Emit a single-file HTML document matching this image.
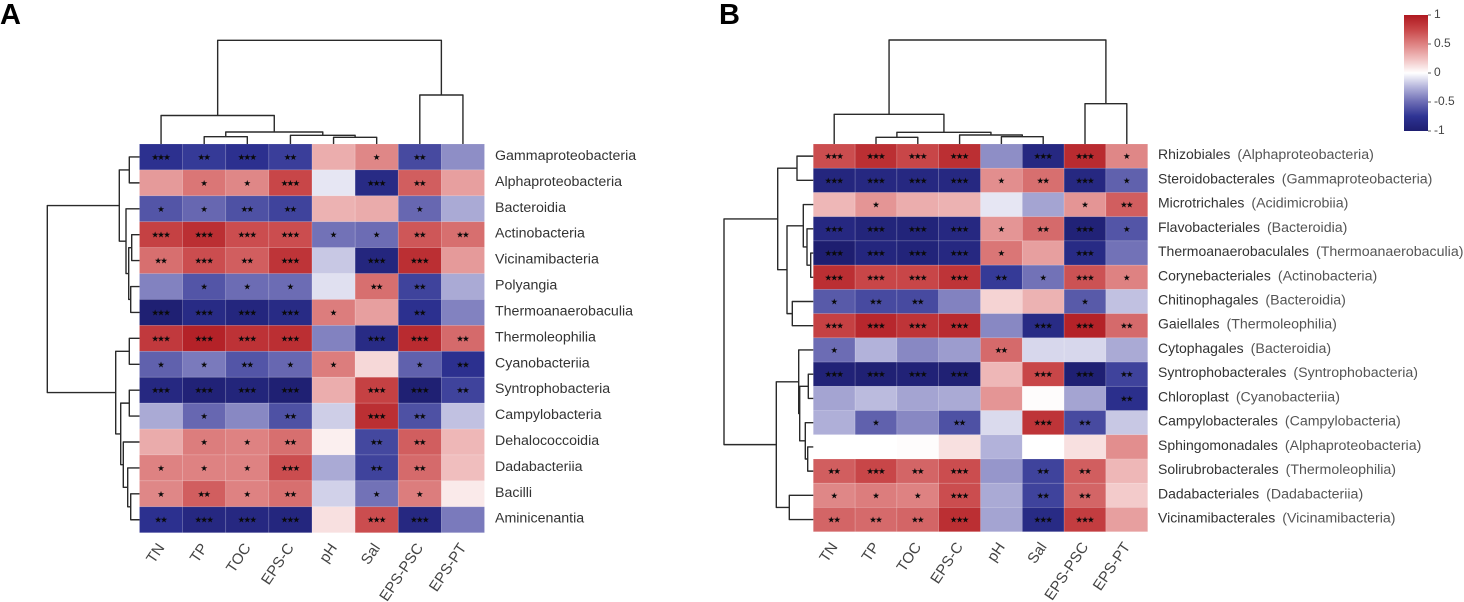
<!DOCTYPE html>
<html lang="en">
<head>
<meta charset="utf-8">
<title>Correlation heatmaps</title>
<style>
html,body{margin:0;padding:0;background:#fff;width:1464px;height:602px;overflow:hidden}
svg{display:block}
text{font-family:"Liberation Sans",Arial,sans-serif}
.panel{font-weight:700;font-size:29px;fill:#000}
.rowl{font-size:14px;fill:#333}
.rowa{font-size:14.2px}
.rowp{font-size:14.2px;fill:#555}
.coll{font-size:15px;fill:#444}
.star{font-family:"DejaVu Sans",sans-serif;font-size:8.4px;fill:#0a0a0a;letter-spacing:-1.6px}
.tick{font-size:12px;fill:#444}
.branch{fill:none;stroke:#2a2a2a;stroke-width:1.4;stroke-linejoin:round}
</style>
</head>
<body>
<svg id="chart" xmlns="http://www.w3.org/2000/svg" width="1464" height="602" viewBox="0 0 1464 602">
  <text class="panel" x="0" y="24">A</text>
  <text class="panel" x="719" y="24">B</text>
  <defs>
    <linearGradient id="cbar" x1="0" y1="1" x2="0" y2="0"></linearGradient>
  </defs>
</svg>
<script>
var envFactors = ['TN','TP','TOC','EPS-C','pH','Sal','EPS-PSC','EPS-PT'];

var rowsA = ['Gammaproteobacteria','Alphaproteobacteria','Bacteroidia','Actinobacteria','Vicinamibacteria','Polyangia','Thermoanaerobaculia','Thermoleophilia','Cyanobacteriia','Syntrophobacteria','Campylobacteria','Dehalococcoidia','Dadabacteriia','Bacilli','Aminicenantia'];
var valuesA = [
  [-.78,-.72,-.78,-.70,.32,.48,-.65,-.38],
  [.40,.55,.48,.75,-.08,-.85,.65,.38],
  [-.60,-.52,-.62,-.68,.30,.33,-.52,-.28],
  [.78,.88,.72,.72,-.48,-.50,.68,.58],
  [.58,.72,.65,.85,-.18,-.90,.88,.40],
  [-.42,-.60,-.50,-.50,-.10,.58,-.68,-.28],
  [-.98,-.85,-.90,-.85,.52,.38,-.78,-.42],
  [.82,.95,.86,.88,-.42,-.85,.90,.60],
  [-.55,-.45,-.60,-.52,.52,.15,-.55,-.78],
  [-.88,-.95,-.92,-.98,.32,.78,-.98,-.68],
  [-.28,-.52,-.40,-.62,-.16,.88,-.62,-.20],
  [.33,.52,.50,.58,.06,-.66,.65,.28],
  [.50,.50,.50,.72,-.28,-.68,.60,.25],
  [.48,.65,.50,.58,-.15,-.48,.52,.08],
  [-.78,-.88,-.88,-.90,.12,.72,-.88,-.45]
];
var starsA = [
  [3,2,3,2,0,1,2,0],
  [0,1,1,3,0,3,2,0],
  [1,1,2,2,0,0,1,0],
  [3,3,3,3,1,1,2,2],
  [2,3,2,3,0,3,3,0],
  [0,1,1,1,0,2,2,0],
  [3,3,3,3,1,0,2,0],
  [3,3,3,3,0,3,3,2],
  [1,1,2,1,1,0,1,2],
  [3,3,3,3,0,3,3,2],
  [0,1,0,2,0,3,2,0],
  [0,1,1,2,0,2,2,0],
  [1,1,1,3,0,2,2,0],
  [1,2,1,2,0,1,1,0],
  [2,3,3,3,0,3,3,0]
];
var colTreeA = [103.7,[28.5,0,[12,[7.3,1,2],[8.7,3,[6.7,4,5]]]],[49,6,7]];
var rowTreeA = [92.2,
  [20.2,[10.2,0,1],[13.5,2,[10.8,[7.8,3,4],[8.8,5,6]]]],
  [23.8,[10.2,7,8],[18.8,[10.2,9,10],[16.2,11,[11.8,12,[8.8,13,14]]]]]
];

var rowsB = ['Rhizobiales','Steroidobacterales','Microtrichales','Flavobacteriales','Thermoanaerobaculales','Corynebacteriales','Chitinophagales','Gaiellales','Cytophagales','Syntrophobacterales','Chloroplast','Campylobacterales','Sphingomonadales','Solirubrobacterales','Dadabacteriales','Vicinamibacterales'];
var classesB = ['Alphaproteobacteria','Gammaproteobacteria','Acidimicrobiia','Bacteroidia','Thermoanaerobaculia','Actinobacteria','Bacteroidia','Thermoleophilia','Bacteroidia','Syntrophobacteria','Cyanobacteriia','Campylobacteria','Alphaproteobacteria','Thermoleophilia','Dadabacteriia','Vicinamibacteria'];
var valuesB = [
  [.72,.88,.75,.88,-.38,-.88,.90,.48],
  [-.90,-.88,-.88,-.88,.45,.58,-.88,-.55],
  [.28,.42,.32,.30,-.08,-.30,.42,.65],
  [-.88,-.92,-.93,-.88,.42,.60,-.95,-.60],
  [-1,-.90,-.93,-.88,.55,.38,-.85,-.48],
  [.88,.75,.75,.85,-.72,-.48,.70,.50],
  [-.58,-.65,-.65,-.42,.17,.30,-.58,-.20],
  [.78,.92,.85,.90,-.40,-.85,.95,.60],
  [-.50,-.25,-.40,-.33,.60,-.13,-.13,-.28],
  [-.95,-.97,-.95,-.97,.28,.75,-.98,-.68],
  [-.30,-.22,-.30,-.28,.42,.01,-.30,-.80],
  [-.26,-.55,-.40,-.62,-.12,.85,-.65,-.18],
  [0,0,.01,.12,-.25,0,.12,.45],
  [.65,.75,.62,.72,-.35,-.68,.65,.28],
  [.48,.52,.50,.72,-.28,-.68,.62,.20],
  [.62,.60,.62,.88,-.30,-.85,.80,.38]
];
var starsB = [
  [3,3,3,3,0,3,3,1],
  [3,3,3,3,1,2,3,1],
  [0,1,0,0,0,0,1,2],
  [3,3,3,3,1,2,3,1],
  [3,3,3,3,1,0,3,0],
  [3,3,3,3,2,1,3,1],
  [1,2,2,0,0,0,1,0],
  [3,3,3,3,0,3,3,2],
  [1,0,0,0,2,0,0,0],
  [3,3,3,3,0,3,3,2],
  [0,0,0,0,0,0,0,2],
  [0,1,0,2,0,3,2,0],
  [0,0,0,0,0,0,0,0],
  [2,3,2,3,0,2,2,0],
  [1,1,1,3,0,2,2,0],
  [2,2,2,3,0,3,3,0]
];
var colTreeB = [104,[29.7,0,[11.7,[6.7,1,2],[9,3,[7.3,4,5]]]],[40.3,6,7]];
var rowTreeB = [89.3,
  [35.6,[16.3,0,1],[26.3,[10,2,[6.3,3,[2.6,4,5]]],[21,6,7]]],
  [37,[14.6,8,[13.6,[5,9,10],[8,11,[5.6,12,13]]]],[24,14,15]]
];

var legendTicks = [1,0.5,0,-0.5,-1];

var svg = document.getElementById('chart');
var NS = 'http://www.w3.org/2000/svg';

function make(tag, attrs, parent) {
  var el = document.createElementNS(NS, tag);
  for (var k in attrs) el.setAttribute(k, attrs[k]);
  (parent || svg).appendChild(el);
  return el;
}

var ramp = [[-1,30,30,112],[-.75,46,51,147],[-.5,108,108,180],[-.25,178,178,218],[0,255,255,255],[.25,240,190,190],[.5,222,130,130],[.75,200,70,72],[1,175,25,32]];
function colorOf(v) {
  v = Math.max(-1, Math.min(1, v));
  for (var i = 1; i < ramp.length; i++) {
    if (v <= ramp[i][0]) {
      var a = ramp[i-1], b = ramp[i], t = (v - a[0]) / (b[0] - a[0]);
      return 'rgb(' + [1,2,3].map(function (c) { return Math.round(a[c] + (b[c] - a[c]) * t); }).join(',') + ')';
    }
  }
  return 'rgb(175,25,32)';
}

function band(start, end, n) {
  var step = (end - start) / n;
  return { step: step, at: function (i) { return start + step * i; }, mid: function (i) { return start + step * (i + .5); } };
}

function drawTree(node, leafPos, toPx, group, horizontalBase) {
  if (typeof node === 'number') return { pos: leafPos(node), depth: horizontalBase };
  var a = drawTree(node[1], leafPos, toPx, group, horizontalBase);
  var b = drawTree(node[2], leafPos, toPx, group, horizontalBase);
  var d = toPx(node[0]);
  var path = group.orient === 'top'
    ? 'M' + a.pos + ' ' + a.depth + 'V' + d + 'H' + b.pos + 'V' + b.depth
    : 'M' + a.depth + ' ' + a.pos + 'H' + d + 'V' + b.pos + 'H' + b.depth;
  var branch = make('path', { d: path, 'class': 'branch' }, group.el);
  
  
  return { pos: (a.pos + b.pos) / 2, depth: d };
}

function drawPanel(cfg) {
  var xs = band(cfg.x0, cfg.x1, envFactors.length);
  var ys = band(cfg.y0, cfg.y1, cfg.rows.length);

  var heat = make('g', {});
  
  
  cfg.values.forEach(function (row, r) {
    row.forEach(function (v, c) {
      var cell = make('rect', { x: xs.at(c), y: ys.at(r), width: xs.step, height: ys.step, fill: colorOf(v), stroke: 'rgba(255,255,255,.18)', 'stroke-width': .7 }, heat);
      
      
      var n = cfg.stars[r][c];
      if (n > 0) {
        var s = make('text', { 'class': 'star', x: xs.mid(c) - .8, y: ys.mid(r) + 3, 'text-anchor': 'middle' }, heat);
        s.textContent = '★★★'.slice(0, n);
        
        
      }
    });
  });

  var topEl = make('g', {});
  
  
  drawTree(cfg.colTree, xs.mid, function (h) { return cfg.y0 - h; }, { el: topEl, orient: 'top' }, cfg.y0);

  var leftEl = make('g', {});
  
  
  drawTree(cfg.rowTree, ys.mid, function (h) { return cfg.x0 - h; }, { el: leftEl, orient: 'left' }, cfg.x0);

  cfg.rows.forEach(function (name, r) {
    var t = make('text', { 'class': cfg.classes ? 'rowl' : 'rowl rowa', x: cfg.labelX, y: ys.mid(r) + 3 });
    
    
    t.appendChild(document.createTextNode(name));
    if (cfg.classes) {
      var p = make('tspan', { 'class': 'rowp', dx: 7 }, t);
      p.textContent = '(' + cfg.classes[r] + ')';
    }
  });

  envFactors.forEach(function (name, c) {
    var px = xs.mid(c) + 4, py = cfg.y1 + 15;
    var t = make('text', { 'class': 'coll', x: px, y: py, 'text-anchor': 'end', transform: 'rotate(-56 ' + px + ' ' + py + ')' });
    t.textContent = name;
    
    
  });
}

drawPanel({ id: 'panel-a', x0: 139.5, x1: 484.5, y0: 144, y1: 532.7, labelX: 495, rows: rowsA, values: valuesA, stars: starsA, colTree: colTreeA, rowTree: rowTreeA });
drawPanel({ id: 'panel-b', x0: 813.3, x1: 1147.7, y0: 144, y1: 531.7, labelX: 1158, rows: rowsB, classes: classesB, values: valuesB, stars: starsB, colTree: colTreeB, rowTree: rowTreeB });

var grad = document.getElementById('cbar');
ramp.forEach(function (s) {
  make('stop', { offset: ((s[0] + 1) / 2 * 100) + '%', 'stop-color': colorOf(s[0]) }, grad);
});
var legend = make('g', {});


var legendTop = 15, legendBottom = 131;
function legendY(v) { return legendBottom - (v + 1) / 2 * (legendBottom - legendTop); }
var barRect = make('rect', { x: 1404, y: legendTop, width: 24, height: legendBottom - legendTop, fill: 'url(#cbar)' }, legend);


legendTicks.forEach(function (v) {
  var y = legendY(v);
  var mark = make('line', { x1: 1428, x2: 1431, y1: y, y2: y, stroke: '#666', 'stroke-width': 1 }, legend);
  
  
  var t = make('text', { 'class': 'tick', x: 1434, y: y + 3 }, legend);
  t.textContent = String(v);
  
  
});
</script>
</body>
</html>
